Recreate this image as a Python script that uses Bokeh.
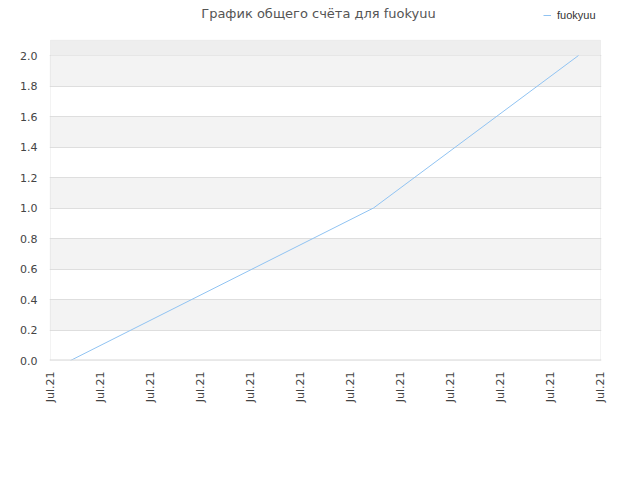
import math
from bokeh.plotting import figure
from bokeh.models import FixedTicker, PrintfTickFormatter, Range1d, BoxAnnotation, Legend, LegendItem, Label, Span
from bokeh.embed import file_html
from bokeh.resources import INLINE

# data
x_vals = [0.4, 6.46, 10.56]
scores = [0.0, 1.0, 2.0]
series_name = "fuokyuu"
x_ticks = list(range(12))
x_tick_labels = ["Jul.21"] * 12
y_ticks = [0.0, 0.2, 0.4, 0.6, 0.8, 1.0, 1.2, 1.4, 1.6, 1.8, 2.0]
title_text = "График общего счёта для fuokyuu"

FONT = "DejaVu Sans"
X_MIN, X_MAX = 0, 11
Y_MIN, Y_MAX = 0, 2.1

# frame spans the header strip too, so title and legend sit inside it
p = figure(width=632, height=472, output_backend="svg", toolbar_location=None,
           x_range=Range1d(-0.02, 11.02), y_range=Range1d(0, 2.3607),
           min_border_left=49, min_border_right=31, min_border_top=0, min_border_bottom=112)

p.background_fill_color = "#ffffff"
p.border_fill_color = "#ffffff"
p.outline_line_color = None

p.xaxis.ticker = FixedTicker(ticks=x_ticks)
p.xaxis.major_label_overrides = {t: l for t, l in zip(x_ticks, x_tick_labels)}
p.xaxis.major_label_orientation = math.pi / 2
p.yaxis.ticker = FixedTicker(ticks=y_ticks)
p.yaxis.formatter = PrintfTickFormatter(format="%.1f")
for ax in (p.xaxis, p.yaxis):
    ax.axis_line_color = None
    ax.major_tick_line_color = None
    ax.minor_tick_line_color = None
    ax.major_label_text_font = FONT
    ax.major_label_text_font_size = "11px"
    ax.major_label_text_color = "#444444"
p.xaxis.major_label_standoff = 5
p.yaxis.major_label_standoff = 6

p.xgrid.grid_line_color = None
p.ygrid.ticker = FixedTicker(ticks=y_ticks)
p.ygrid.grid_line_color = "#dedede"
p.ygrid.band_fill_color = "#f3f3f3"
p.ygrid.band_fill_alpha = 1.0

# top band above the last tick, then the plot-area border
p.add_layout(BoxAnnotation(left=X_MIN, right=X_MAX, bottom=y_ticks[-1], top=Y_MAX,
                           fill_color="#eeeeee", fill_alpha=1.0, line_color=None, level="underlay"))
p.add_layout(BoxAnnotation(left=X_MIN, right=X_MAX, bottom=Y_MIN, top=Y_MAX,
                           fill_alpha=0, line_color="#d8d8d8", line_width=1, level="overlay"))
p.add_layout(Span(location=Y_MIN, dimension="width", line_color="#d8d8d8", line_width=2))

r = p.line(x_vals, scores, line_color="#90c3f2", line_width=1)

p.add_layout(Label(x=5.36, y=2.275, text=title_text, text_align="center", text_baseline="middle",
                   text_font=FONT, text_font_size="13px", text_color="#555555"))

legend = Legend(items=[LegendItem(label=series_name, renderers=[r])], location=(494, 339),
                border_line_color=None, background_fill_alpha=0, label_text_font="Liberation Sans",
                label_text_font_size="11px", label_text_color="#333333", glyph_width=8,
                glyph_height=10, padding=0, spacing=0, margin=0, label_standoff=6,
                label_height=12)
p.add_layout(legend)

open("out.html", "w").write(file_html(p, INLINE))
